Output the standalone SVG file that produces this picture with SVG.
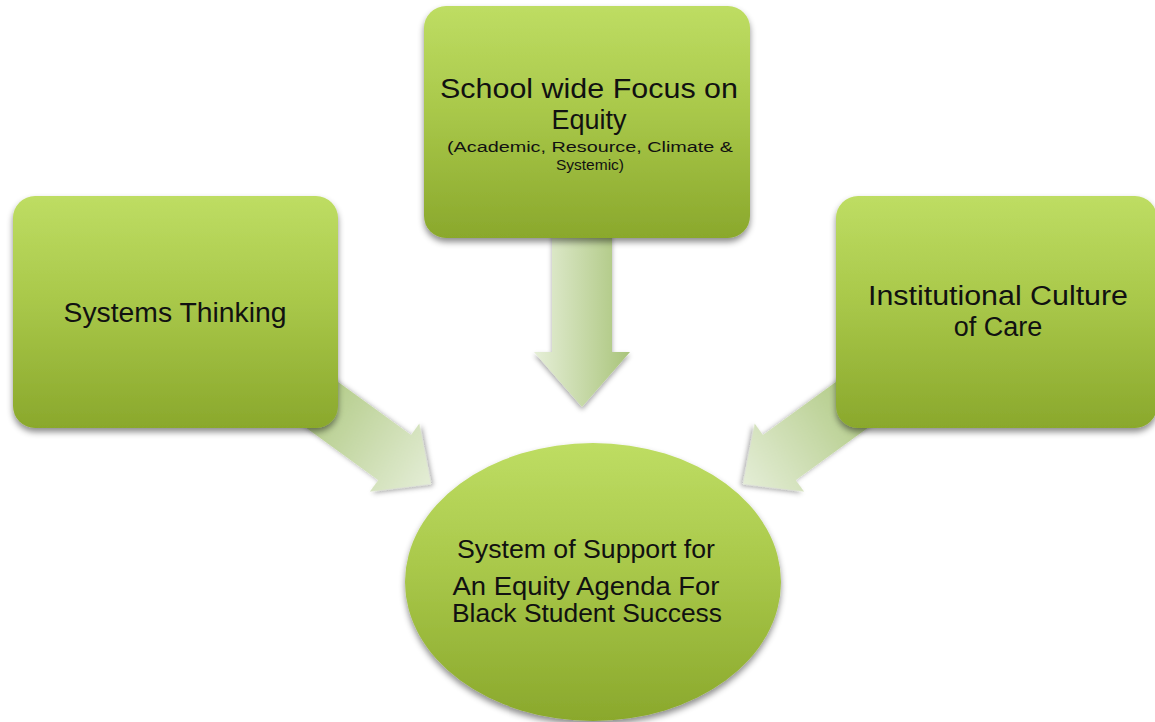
<svg xmlns="http://www.w3.org/2000/svg" width="1155" height="722" viewBox="0 0 1155 722">
<style>
.box{fill:url(#g);filter:url(#sh)}
.arr{filter:url(#sh2)}
.t{font-family:"Liberation Sans",Arial,sans-serif;fill:#111;text-anchor:middle}
.L{font-size:27px}
.S{font-size:15.5px}
</style>
<defs>
<linearGradient id="g" x1="0" y1="0" x2="0" y2="1">
<stop offset="0" stop-color="#bedd63"/>
<stop offset="0.45" stop-color="#a9c84a"/>
<stop offset="1" stop-color="#8aa82c"/>
</linearGradient>
<linearGradient id="ad" x1="0" y1="0" x2="1" y2="0">
<stop offset="0" stop-color="#e6efd8"/>
<stop offset="1" stop-color="#a9c47a"/>
</linearGradient>
<linearGradient id="ag" x1="0" y1="0" x2="0" y2="1">
<stop offset="0" stop-color="#9fbe69"/>
<stop offset="1" stop-color="#e4edd6"/>
</linearGradient>
<filter id="sh" x="-10%" y="-10%" width="120%" height="125%">
<feDropShadow dx="0" dy="4" stdDeviation="3" flood-color="#000" flood-opacity="0.45"/>
</filter>
<filter id="sh2" x="-20%" y="-20%" width="140%" height="140%">
<feDropShadow dx="0" dy="3" stdDeviation="2.5" flood-color="#000" flood-opacity="0.35"/>
</filter>
</defs>
<g id="connectors">
<polygon class="arr" fill="url(#ad)" transform="translate(582,407)" points="-30,-175 30,-175 30,-55 48,-55 0,0 -48,-55 -30,-55"/>
<polygon class="arr" fill="url(#ag)" transform="translate(431,484) rotate(-54)" points="-28,-200 28,-200 28,-45 42,-45 0,0 -42,-45 -28,-45"/>
<polygon class="arr" fill="url(#ag)" transform="translate(743,484) rotate(54)" points="-28,-200 28,-200 28,-45 42,-45 0,0 -42,-45 -28,-45"/>
</g>
<g id="node-top">
<rect class="box" x="424" y="6" width="326" height="232" rx="22"/>
<text class="t L" x="589" y="98" textLength="298" lengthAdjust="spacingAndGlyphs">School wide Focus on</text>
<text class="t L" x="589" y="129">Equity</text>
<text class="t S" x="590" y="152" textLength="286" lengthAdjust="spacingAndGlyphs">(Academic, Resource, Climate &amp;</text>
<text class="t S" x="590" y="170">Systemic)</text>
</g>
<g id="node-left">
<rect class="box" x="13" y="196" width="325" height="232" rx="22"/>
<text class="t L" x="175" y="322" textLength="223" lengthAdjust="spacingAndGlyphs">Systems Thinking</text>
</g>
<g id="node-right">
<rect class="box" x="836" y="196" width="321" height="232" rx="22"/>
<text class="t L" x="998" y="305" textLength="260" lengthAdjust="spacingAndGlyphs">Institutional Culture</text>
<text class="t L" x="998" y="336">of Care</text>
</g>
<g id="node-center">
<ellipse class="box" cx="593" cy="582" rx="188" ry="139"/>
<text class="t S" style="font-size:25px" x="586" y="558" textLength="258" lengthAdjust="spacingAndGlyphs">System of Support for</text>
<text class="t S" style="font-size:25px" x="586" y="595" textLength="267" lengthAdjust="spacingAndGlyphs">An Equity Agenda For</text>
<text class="t S" style="font-size:25px" x="587" y="622" textLength="270" lengthAdjust="spacingAndGlyphs">Black Student Success</text>
</g>
</svg>
